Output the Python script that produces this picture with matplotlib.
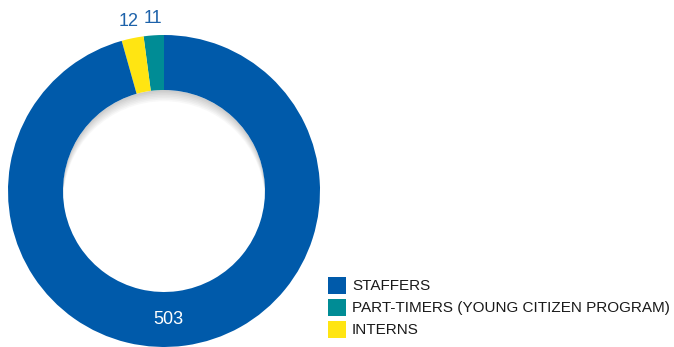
import numpy as np
import matplotlib.pyplot as plt
from matplotlib.patches import Circle, Rectangle

# staff breakdown
categories = ["STAFFERS", "PART-TIMERS (YOUNG CITIZEN PROGRAM)", "INTERNS"]
values = [503, 11, 12]
colors = ["#005AAA", "#008C95", "#FFE512"]

plt.rcParams['font.family'] = ['Liberation Sans', 'DejaVu Sans']

fig = plt.figure(figsize=(6.74, 3.47), dpi=100)
ax = fig.add_axes([0, 0, 1, 1])
ax.set_xlim(0, 674)
ax.set_ylim(0, 347)
ax.set_aspect('equal')
ax.axis('off')

cx, cy = 164, 156
r_out, r_in = 156, 101

# soft shadow at the top of the hole
shades = np.linspace(0.80, 1.0, 8)
for i, s in enumerate(shades):
    ax.add_patch(Circle((cx, cy - i * 1.6), r_in, color=(s, s, s), zorder=1, lw=0))

# draw order around the ring: part-timers, interns, then staffers
order = [1, 2, 0]
vals = [values[i] for i in order]
cols = [colors[i] for i in order]
wedges, _ = ax.pie(vals, colors=cols, startangle=90, counterclock=True,
                   center=(cx, cy), radius=r_out,
                   wedgeprops=dict(width=r_out - r_in, linewidth=0))
for w in wedges:
    w.set_zorder(2)
ax.set_xlim(0, 674)
ax.set_ylim(0, 347)

# value labels
total = sum(vals)
start = 90.0
for i, v in zip(order, vals):
    span = v / total * 360
    mid = np.deg2rad(start + span / 2)
    start += span
    if i == 0:
        ax.text(cx + 4, cy - 129, str(v), color='white', fontsize=13,
                ha='center', va='center', zorder=3)
    else:
        ax.text(cx + 173 * np.cos(mid), cy + 173 * np.sin(mid), str(v),
                color='#1D62AA', fontsize=13, ha='center', va='center', zorder=3)

# legend
for k, (lab, col) in enumerate(zip(categories, colors)):
    y = 53 - k * 22
    ax.add_patch(Rectangle((328, y), 18, 17, color=col, lw=0))
    ax.text(352, y + 8, lab, fontsize=11, color='#1a1a1a', ha='left', va='center')

fig.savefig('out.png', dpi=100)
